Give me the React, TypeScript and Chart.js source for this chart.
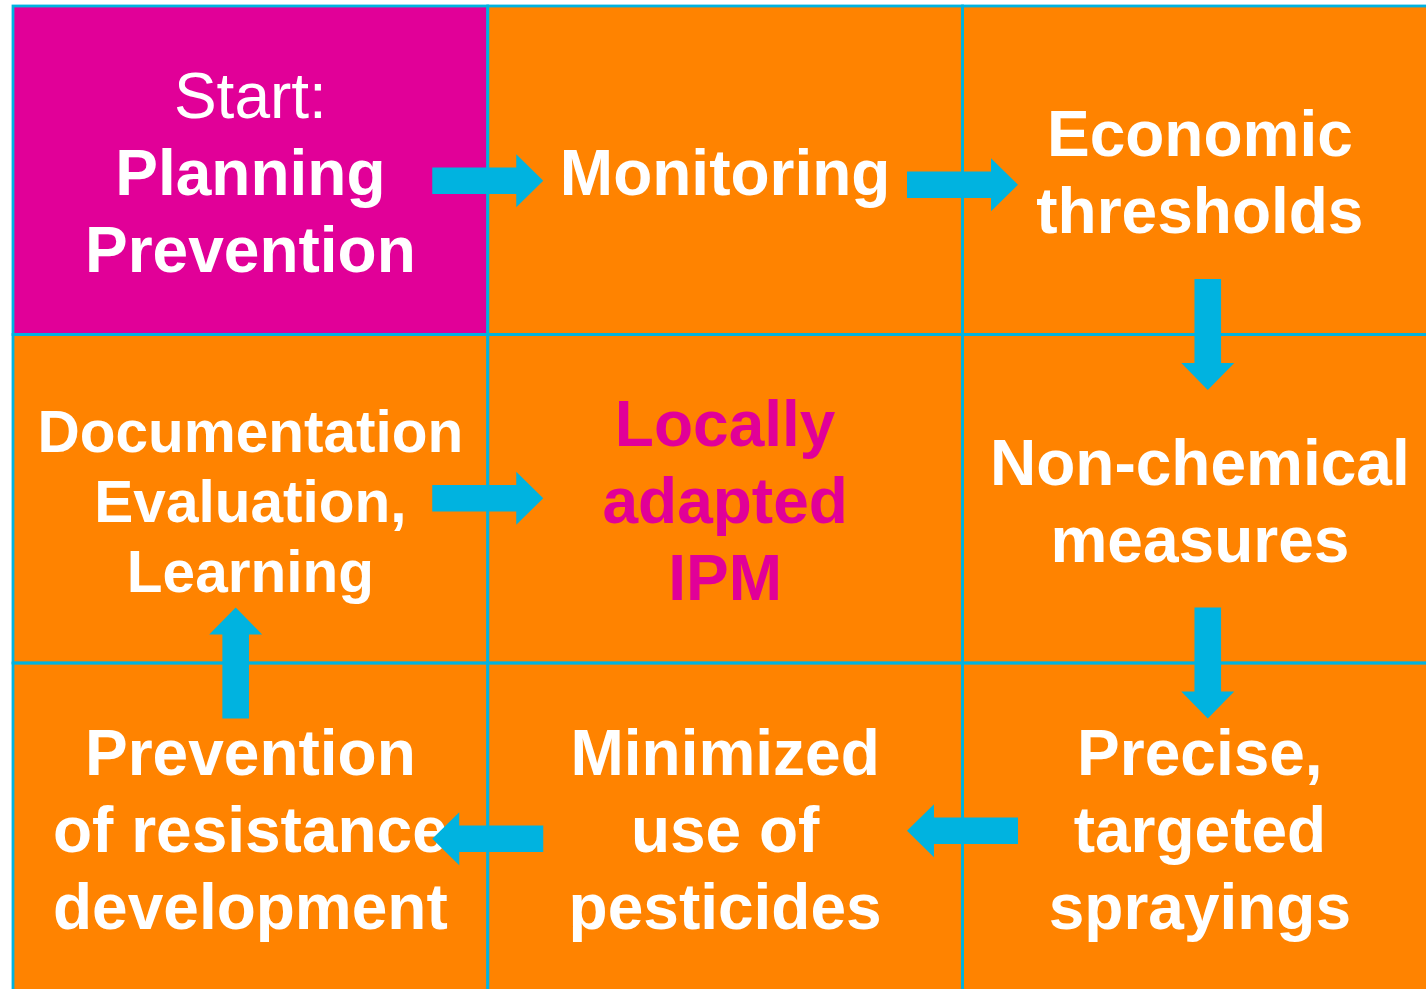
import React, { useEffect, useRef } from 'react';
import { Chart, registerables } from 'chart.js';

Chart.register(...registerables);

// ---------- data ----------
const columns = ['Column 1', 'Column 2', 'Column 3'];
const rows = ['Row 1', 'Row 2', 'Row 3'];
const rowShare = [1, 1, 1];

const cellLines: string[][] = [
  ['Start:', 'Planning', 'Prevention'],
  ['Monitoring'],
  ['Economic', 'thresholds'],
  ['Documentation', 'Evaluation,', 'Learning'],
  ['Locally', 'adapted', 'IPM'],
  ['Non-chemical', 'measures'],
  ['Prevention', 'of resistance', 'development'],
  ['Minimized', 'use of', 'pesticides'],
  ['Precise,', 'targeted', 'sprayings'],
];

// flow of the cycle, as cell indices (row-major)
const flowFrom = [0, 1, 2, 5, 8, 7, 6, 3];
const flowTo = [1, 2, 5, 8, 7, 6, 3, 4];

// ---------- styles ----------
const PINK = '#E10098';
const ORANGE = '#FF8300';
const CYAN = '#00B3E0';
const WHITE = '#FFFFFF';
const FONT = '"Liberation Sans", Arial, Helvetica, sans-serif';

const cellFill = [PINK, ORANGE, ORANGE, ORANGE, ORANGE, ORANGE, ORANGE, ORANGE, ORANGE];
const cellTextColor = [WHITE, WHITE, WHITE, WHITE, PINK, WHITE, WHITE, WHITE, WHITE];
const cellFontSize = [64, 64, 64, 58.5, 64, 64, 64, 64, 64];
const cellLineHeight = [77, 77, 77, 70, 77, 77, 77, 77, 77];
const textNudge = 7;
const arrowNudge = [10.5, 14.5, 7.9, 7.9, 3.5, 11.5, -14.7, -0.5];
const ARROW_LEN = 111;
const SHAFT_HALF = 13.3;
const HEAD_HALF = 26.5;
const HEAD_LEN = 27;

function cellRect(chart: any, idx: number) {
  const r = Math.floor(idx / 3);
  const c = idx % 3;
  const dsIndex = rows.length - 1 - r; // datasets stacked bottom-up
  const el: any = chart.getDatasetMeta(dsIndex).data[c];
  const top = Math.min(el.y, el.base);
  const bottom = Math.max(el.y, el.base);
  return { cx: el.x, cy: (top + bottom) / 2, left: el.x - el.width / 2, top, width: el.width, height: bottom - top };
}

const gridPlugin = {
  id: 'gridCells',
  afterDatasetsDraw(chart: any) {
    const ctx = chart.ctx;
    ctx.save();
    // cell texts
    for (let i = 0; i < cellLines.length; i++) {
      const rc = cellRect(chart, i);
      const lines = cellLines[i];
      const lh = cellLineHeight[i];
      ctx.fillStyle = cellTextColor[i];
      ctx.textAlign = 'center';
      ctx.textBaseline = 'middle';
      lines.forEach((line, k) => {
        const weight = i === 0 && k === 0 ? 'normal' : 'bold';
        ctx.font = `${weight} ${cellFontSize[i]}px ${FONT}`;
        const y = rc.cy + textNudge + (k - (lines.length - 1) / 2) * lh;
        ctx.fillText(line, rc.cx, y);
      });
    }
    // cell borders
    ctx.strokeStyle = CYAN;
    ctx.lineWidth = 2.8;
    for (let i = 0; i < cellLines.length; i++) {
      const rc = cellRect(chart, i);
      ctx.strokeRect(rc.left, rc.top, rc.width, rc.height);
    }
    // arrows
    ctx.fillStyle = CYAN;
    for (let a = 0; a < flowFrom.length; a++) {
      const p = cellRect(chart, flowFrom[a]);
      const q = cellRect(chart, flowTo[a]);
      let dx = q.cx - p.cx;
      let dy = q.cy - p.cy;
      const d = Math.hypot(dx, dy);
      dx /= d;
      dy /= d;
      const nx = Math.abs(dx) > 0.5 ? 0 : 1;
      const ny = Math.abs(dx) > 0.5 ? 1 : 0;
      const cx = (p.cx + q.cx) / 2 + nx * arrowNudge[a];
      const cy = (p.cy + q.cy) / 2 + ny * arrowNudge[a];
      const px = -dy;
      const py = dx;
      const pt = (along: number, side: number) => [cx + dx * along + px * side, cy + dy * along + py * side];
      const tail = -ARROW_LEN / 2;
      const base = ARROW_LEN / 2 - HEAD_LEN;
      const tip = ARROW_LEN / 2;
      const pts = [
        pt(tail, -SHAFT_HALF),
        pt(base, -SHAFT_HALF),
        pt(base, -HEAD_HALF),
        pt(tip, 0),
        pt(base, HEAD_HALF),
        pt(base, SHAFT_HALF),
        pt(tail, SHAFT_HALF),
      ];
      ctx.beginPath();
      ctx.moveTo(pts[0][0], pts[0][1]);
      for (let k = 1; k < pts.length; k++) ctx.lineTo(pts[k][0], pts[k][1]);
      ctx.closePath();
      ctx.fill();
    }
    ctx.restore();
  },
};

export default function App() {
  const ref = useRef<HTMLCanvasElement | null>(null);
  useEffect(() => {
    if (!ref.current) return;
    const datasets = rows
      .map((rowName, r) => ({
        label: rowName,
        data: columns.map(() => rowShare[r]),
        backgroundColor: columns.map((_, c) => cellFill[r * 3 + c]),
        borderWidth: 0,
        categoryPercentage: 1,
        barPercentage: 1,
      }))
      .reverse();
    const chart = new Chart(ref.current, {
      type: 'bar',
      data: { labels: columns, datasets },
      options: {
        responsive: false,
        animation: false,
        devicePixelRatio: 1,
        layout: { padding: { left: 13, top: 6, right: 12.75, bottom: 8.5 } },
        plugins: { legend: { display: false }, tooltip: { enabled: false } },
        scales: {
          x: { stacked: true, display: false },
          y: { stacked: true, display: false, min: 0, max: rowShare.reduce((s, v) => s + v, 0) },
        },
      },
      plugins: [gridPlugin],
    });
    return () => chart.destroy();
  }, []);
  return (
    <div style={{ position: 'fixed', left: 0, top: 0, width: 1426, height: 989, overflow: 'hidden', background: '#fff' }}>
      <canvas ref={ref} width={1450} height={1000} style={{ display: 'block', width: 1450, height: 1000 }} />
    </div>
  );
}
